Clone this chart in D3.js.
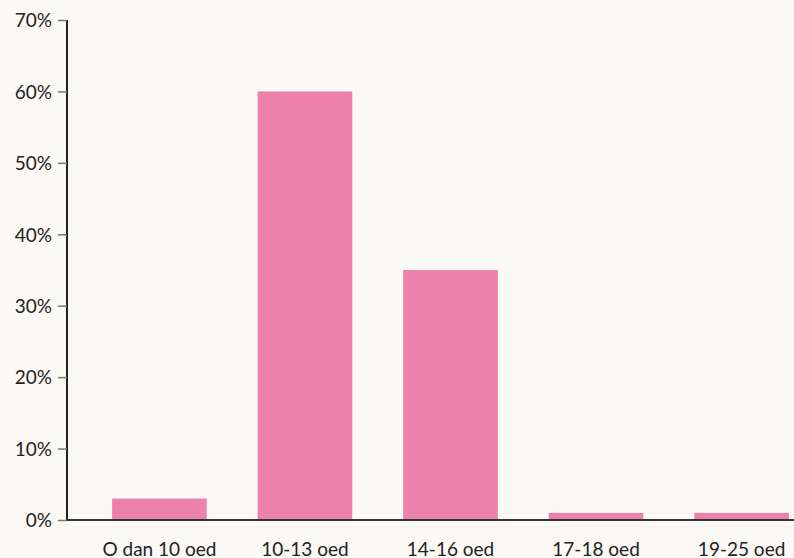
<!DOCTYPE html>
<html>
<head>
<meta charset="utf-8">
<script src="https://cdn.jsdelivr.net/npm/d3@7"></script>
<style>
  body { margin: 0; background: #faf9f5; }
  svg { display: block; font-family: Lato, "Noto Sans", sans-serif; }
</style>
</head>
<body>
<div id="chart"></div>
<script>
// data
var categories = ["O dan 10 oed", "10-13 oed", "14-16 oed", "17-18 oed", "19-25 oed"];
var values = [3, 60, 35, 1, 1];
var yTicks = [0, 10, 20, 30, 40, 50, 60, 70];

var width = 794, height = 558;
var margin = {top: 20, left: 67, bottom: 38};

var svg = d3.select("#chart")
    .append("svg")
    .attr("width", width)
    .attr("height", height);

svg.append("rect")
    .attr("width", width)
    .attr("height", height)
    .attr("fill", "#faf9f5");

// scales
var x = d3.scaleBand()
    .domain(categories)
    .range([margin.left, 834])
    .paddingInner(0.35)
    .paddingOuter(0.31);

var y = d3.scaleLinear()
    .domain([0, 70])
    .range([height - margin.bottom, margin.top]);

// bars
svg.selectAll(".bar")
    .data(values)
    .enter()
    .append("rect")
    .attr("class", "bar")
    .attr("x", function(d, i){ return x(categories[i]); })
    .attr("width", x.bandwidth())
    .attr("y", function(d){ return y(d); })
    .attr("height", function(d){ return y(0) - y(d); })
    .attr("fill", "#ec82a9");

// y axis
var yAxis = svg.append("g")
    .attr("transform", "translate(" + margin.left + ",0)")
    .call(d3.axisLeft(y).tickValues(yTicks).tickSize(9).tickPadding(6)
        .tickFormat(function(d){ return d + "%"; }));

yAxis.attr("font-family", null);
yAxis.select(".domain").attr("stroke", "#222").attr("stroke-width", 2)
    .attr("d", "M0," + margin.top + "V" + y(0));
yAxis.selectAll(".tick line").attr("stroke", "#777").attr("stroke-width", 1.5);
yAxis.selectAll(".tick text")
    .style("font-size", "19px")
    .attr("fill", "#222")
    .attr("dy", "0.36em");

// x axis
var xAxis = svg.append("g")
    .attr("transform", "translate(0," + y(0) + ")")
    .call(d3.axisBottom(x).tickSize(0).tickPadding(23));

xAxis.attr("font-family", null);
xAxis.select(".domain").attr("stroke", "#333").attr("stroke-width", 2)
    .attr("d", "M" + margin.left + ",0H" + width);
xAxis.selectAll(".tick text")
    .style("font-size", "19px")
    .attr("fill", "#222");
</script>
</body>
</html>
